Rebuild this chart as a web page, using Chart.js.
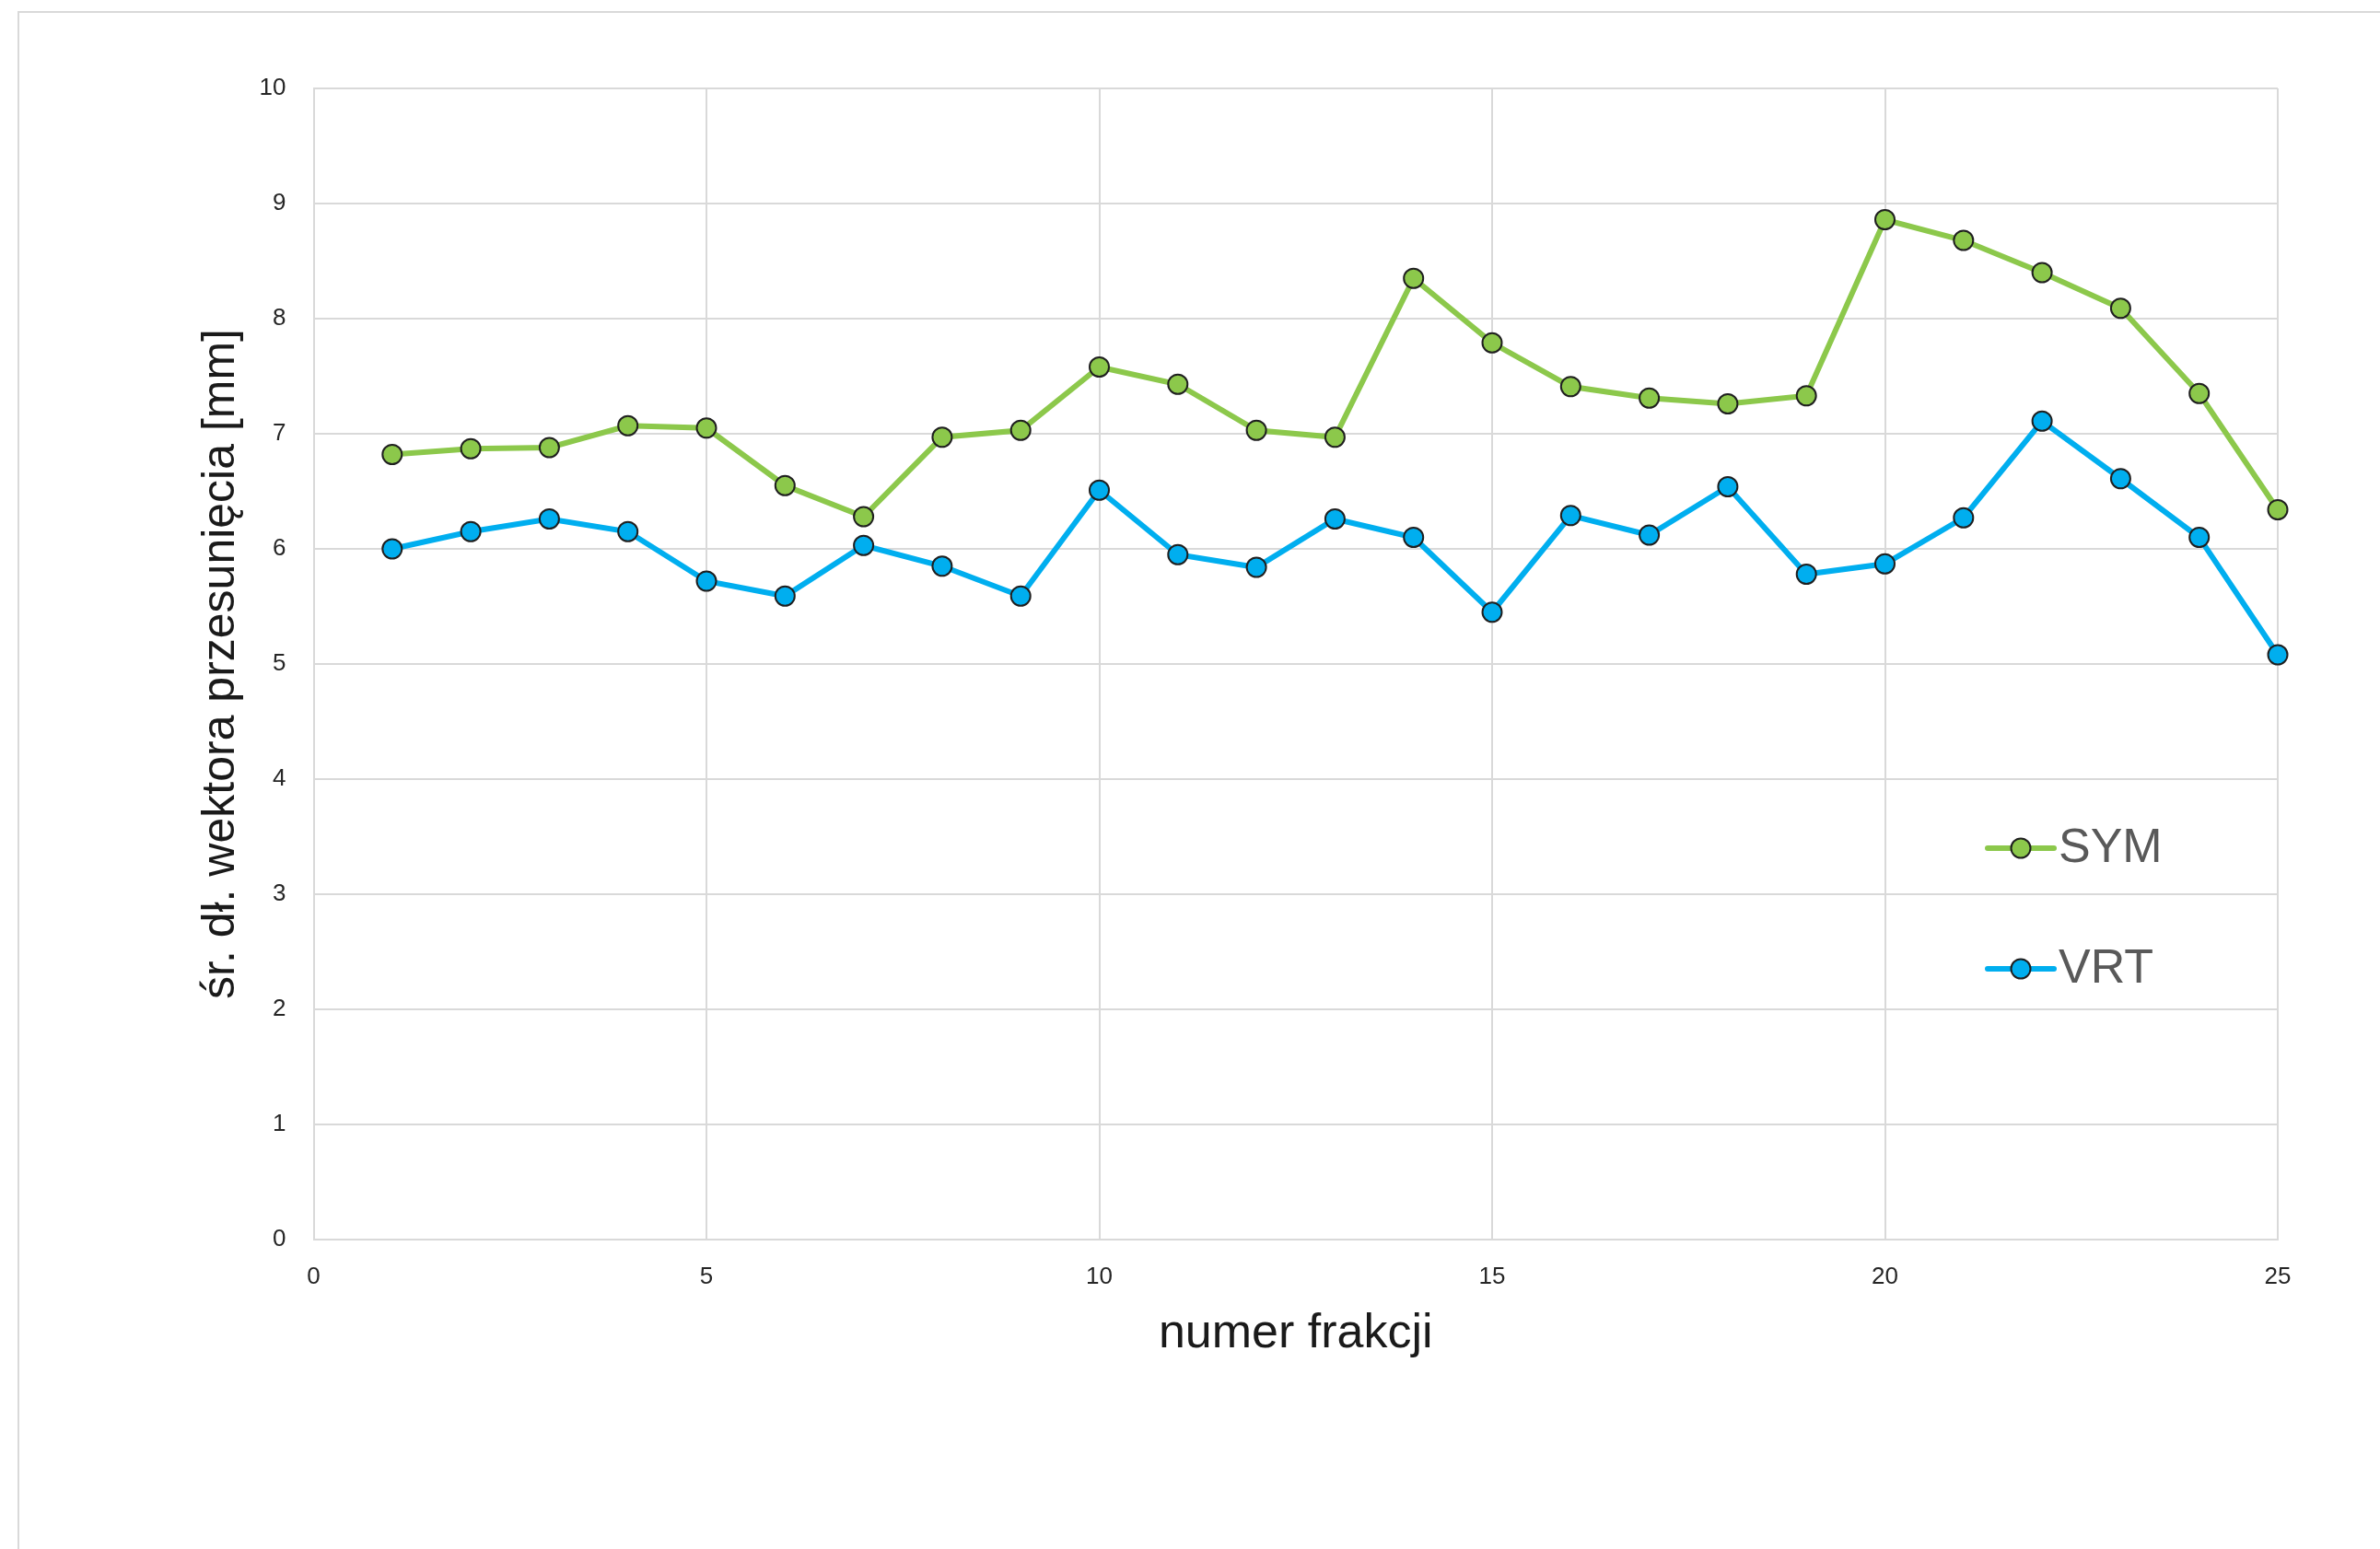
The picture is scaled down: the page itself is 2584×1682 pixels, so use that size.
<!DOCTYPE html>
<html lang="pl">
<head>
<meta charset="utf-8">
<title>Średnia długość wektora przesunięcia</title>
<script src="https://cdn.jsdelivr.net/npm/chart.js@4.4.1/dist/chart.umd.min.js"></script>
<style>
  html, body { margin: 0; padding: 0; background: #ffffff; }
  #wrap { position: relative; width: 2584px; height: 1682px; overflow: hidden; }
  #frame { position: absolute; left: 19px; top: 12px; right: -10px; bottom: -10px;
           border-top: 2px solid #d9d9d9; border-left: 2px solid #d9d9d9; }
  canvas { position: absolute; left: 0; top: 0; }
</style>
</head>
<body>
<div id="wrap">
  <div id="frame"></div>
  <canvas id="chart" width="2584" height="1682"></canvas>
</div>
<script>
// fraction number (x) and mean displacement vector length in mm (y)
const fractions = [1, 2, 3, 4, 5, 6, 7, 8, 9, 10, 11, 12, 13, 14, 15, 16, 17, 18, 19, 20, 21, 22, 23, 24, 25];
const symValues = [6.82, 6.87, 6.88, 7.07, 7.05, 6.55, 6.28, 6.97, 7.03, 7.58, 7.43, 7.03, 6.97,
                   8.35, 7.79, 7.41, 7.31, 7.26, 7.33, 8.86, 8.68, 8.40, 8.09, 7.35, 6.34];
const vrtValues = [6.00, 6.15, 6.26, 6.15, 5.72, 5.59, 6.03, 5.85, 5.59, 6.51, 5.95, 5.84, 6.26,
                   6.10, 5.45, 6.29, 6.12, 6.54, 5.78, 5.87, 6.27, 7.11, 6.61, 6.10, 5.08];
const seriesNames = ['SYM', 'VRT'];
const xTicks = [0, 5, 10, 15, 20, 25];
const yTicks = [0, 1, 2, 3, 4, 5, 6, 7, 8, 9, 10];
const xTitle = 'numer frakcji';
const yTitle = 'śr. dł. wektora przesunięcia [mm]';

const GREEN = '#8cc84b';
const BLUE = '#00aeef';
const GRID = '#d9d9d9';
const FONT = '"Liberation Sans", Arial, sans-serif';

const toPoints = vals => fractions.map((f, i) => ({ x: f, y: vals[i] }));

// legend drawn inside the plot area, to the right
const insideLegend = {
  id: 'insideLegend',
  afterDatasetsDraw(chart, args, opts) {
    const ctx = chart.ctx;
    ctx.save();
    chart.data.datasets.forEach((ds, i) => {
      const y = opts.top + i * opts.rowGap;
      const x0 = opts.left;
      ctx.strokeStyle = ds.borderColor;
      ctx.lineWidth = ds.borderWidth;
      ctx.lineCap = 'round';
      ctx.beginPath();
      ctx.moveTo(x0, y);
      ctx.lineTo(x0 + opts.lineLength, y);
      ctx.stroke();
      ctx.beginPath();
      ctx.arc(x0 + opts.lineLength / 2, y, ds.pointRadius, 0, Math.PI * 2);
      ctx.fillStyle = ds.pointBackgroundColor;
      ctx.fill();
      ctx.lineWidth = ds.pointBorderWidth;
      ctx.strokeStyle = ds.pointBorderColor;
      ctx.stroke();
      ctx.fillStyle = opts.color;
      ctx.font = opts.font;
      ctx.textBaseline = 'middle';
      ctx.textAlign = 'left';
      ctx.fillText(ds.label, x0 + opts.lineLength + opts.textGap, y + 1);
    });
    ctx.restore();
  }
};

const makeDataset = (label, vals, color) => ({
  label,
  data: toPoints(vals),
  borderColor: color,
  backgroundColor: color,
  borderWidth: 6,
  pointRadius: 10.5,
  pointHoverRadius: 10.5,
  pointBackgroundColor: color,
  pointBorderColor: '#1f1f1f',
  pointBorderWidth: 2,
  tension: 0,
  fill: false,
  clip: false
});

new Chart(document.getElementById('chart'), {
  type: 'line',
  data: {
    datasets: [
      makeDataset(seriesNames[0], symValues, GREEN),
      makeDataset(seriesNames[1], vrtValues, BLUE)
    ]
  },
  plugins: [insideLegend],
  options: {
    responsive: false,
    animation: false,
    events: [],
    layout: { padding: { left: 210, top: 96, right: 111, bottom: 202 } },
    plugins: {
      legend: { display: false },
      tooltip: { enabled: false },
      insideLegend: {
        left: 2158, top: 921, rowGap: 131, lineLength: 72, textGap: 5,
        font: '52px ' + FONT, color: '#595959'
      }
    },
    scales: {
      x: {
        type: 'linear',
        min: 0, max: 25,
        afterBuildTicks: s => { s.ticks = xTicks.map(v => ({ value: v })); },
        afterFit: s => { s.height = 134; },
        grid: { color: GRID, lineWidth: 2, drawTicks: false },
        border: { color: GRID, width: 2 },
        ticks: { padding: 25, color: '#262626', font: { family: FONT, size: 26 }, maxRotation: 0 },
        title: {
          display: true, text: xTitle, color: '#1a1a1a',
          font: { family: FONT, size: 52 }, padding: { top: 0, bottom: 0 }
        }
      },
      y: {
        type: 'linear',
        min: 0, max: 10,
        afterBuildTicks: s => { s.ticks = yTicks.map(v => ({ value: v })); },
        afterFit: s => { s.width = 130.5; },
        grid: { color: GRID, lineWidth: 2, drawTicks: false },
        border: { color: GRID, width: 2 },
        ticks: { padding: 30, color: '#262626', font: { family: FONT, size: 26 } },
        title: {
          display: true, text: yTitle, color: '#1a1a1a',
          font: { family: FONT, size: 50 }, padding: { top: 0, bottom: 0 }
        }
      }
    }
  }
});
</script>
</body>
</html>
